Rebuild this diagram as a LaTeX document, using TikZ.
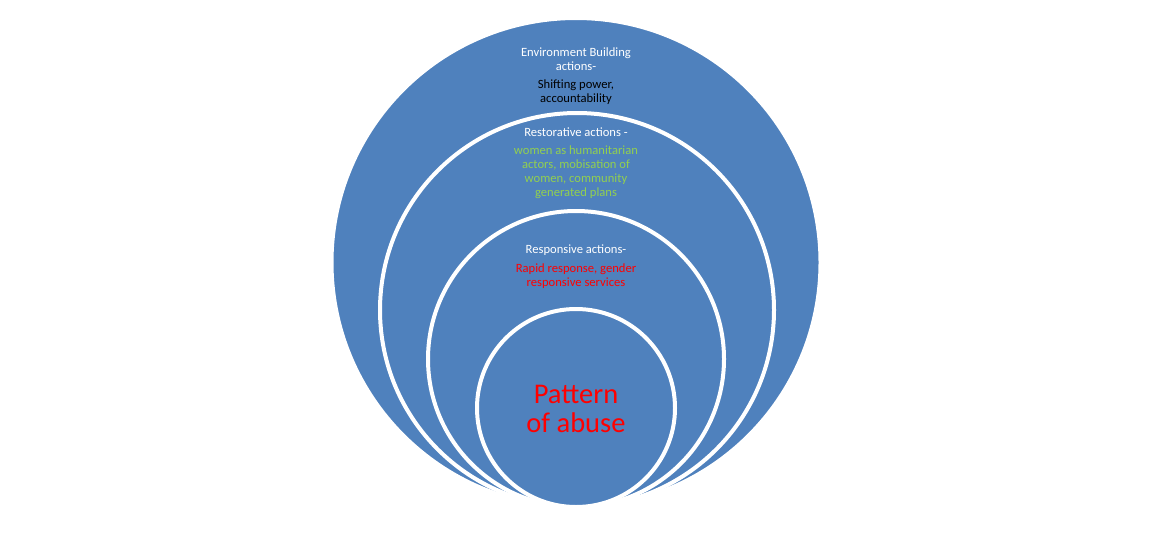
\documentclass[tikz,border=0pt]{standalone}
\usepackage{fontspec}
\setmainfont{Carlito}
\definecolor{ringblue}{HTML}{4F81BD}
\definecolor{textgreen}{HTML}{92D050}
\definecolor{textred}{HTML}{FF0000}
\begin{document}
\begin{tikzpicture}[x=1pt,y=-1pt,
  ring/.style={circle,fill=ringblue,draw=white,line width=4pt,inner sep=0pt},
  lbl/.style={align=center,font=\fontsize{12.6}{14}\selectfont,inner sep=0pt}]
\useasboundingbox (0,0) rectangle (1161,533);
\node[ring,minimum size=489pt] (c1) at (576,262.5) {};
\node[ring,minimum size=394pt] (c2) at (577,310) {};
\node[ring,minimum size=296pt] (c3) at (576,359) {};
\node[ring,minimum size=198pt] (c4) at (576,408) {};
\node[lbl,text=white] (t1) at (576,59) {Environment Building\\actions-};
\node[lbl,text=black] (t2) at (576,92) {Shifting power,\\accountability};
\node[lbl,text=white] (t3) at (576,132) {Restorative actions -};
\node[lbl,text=textgreen] (t4) at (576,172.5) {women as humanitarian\\actors, mobisation of\\women, community\\generated plans};
\node[lbl,text=white] (t5) at (576,250) {Responsive actions-};
\node[lbl,text=textred] (t6) at (576,276) {Rapid response, gender\\responsive services};
\node[align=center,inner sep=0pt,text=textred,font=\fontsize{28.5}{28.5}\selectfont] (t7) at (576,409) {Pattern\\of abuse};
\end{tikzpicture}
\end{document}
